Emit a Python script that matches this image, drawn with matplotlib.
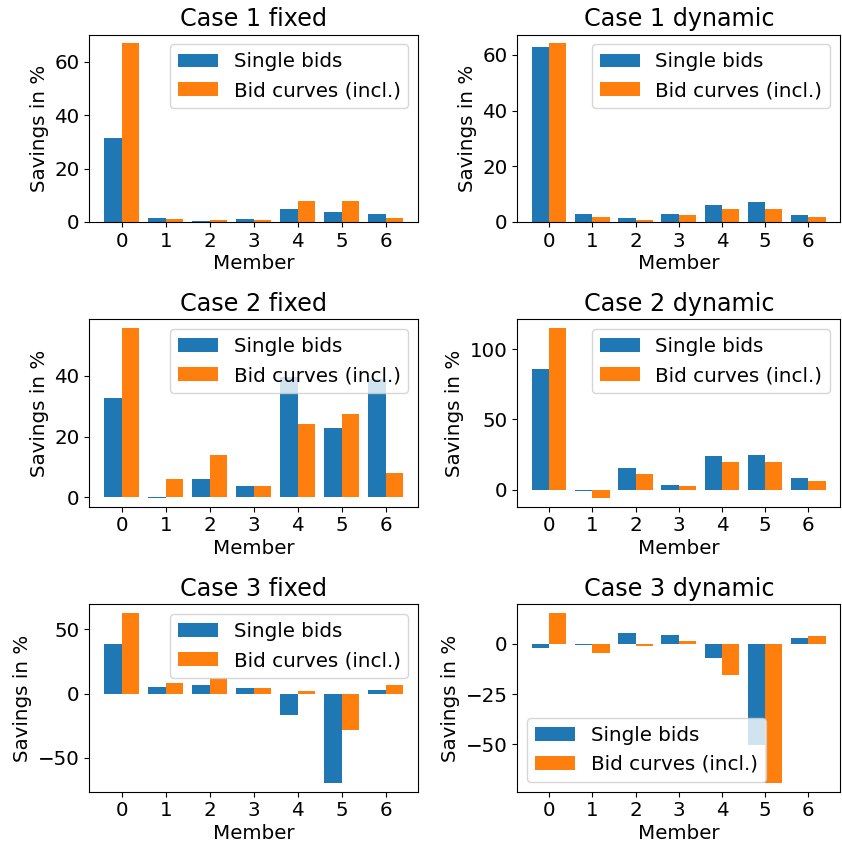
import numpy as np
import matplotlib
matplotlib.use("Agg")
import matplotlib.pyplot as plt

plt.rcParams['font.size'] = 14.3

members = [0, 1, 2, 3, 4, 5, 6]

# savings in % per member
case1_fixed_single = [31.5, 1.4, 0.4, 1.2, 5.0, 3.6, 2.9]
case1_fixed_curves = [66.9, 1.2, 0.6, 0.9, 8.0, 8.0, 1.4]
case1_dyn_single = [63.0, 3.0, 1.3, 3.0, 6.1, 7.2, 2.6]
case1_dyn_curves = [64.1, 1.9, 0.6, 2.4, 4.8, 4.6, 1.7]

case2_fixed_single = [32.6, -0.3, 6.2, 3.6, 39.7, 22.9, 39.1]
case2_fixed_curves = [55.8, 6.1, 13.9, 3.6, 24.1, 27.6, 8.1]
case2_dyn_single = [85.6, -1.0, 15.3, 3.3, 23.7, 24.4, 8.6]
case2_dyn_curves = [115.1, -6.0, 11.0, 2.9, 19.6, 19.6, 6.5]

case3_fixed_single = [38.4, 4.7, 6.5, 4.4, -16.4, -69.5, 3.1]
case3_fixed_curves = [62.7, 7.8, 11.7, 4.4, 1.8, -28.5, 6.3]
case3_dyn_single = [-2.0, -0.8, 5.5, 4.5, -7.0, -50.5, 3.0]
case3_dyn_curves = [15.4, -4.8, -1.2, 1.2, -15.7, -69.2, 3.7]

titles = ["Case 1 fixed", "Case 1 dynamic",
          "Case 2 fixed", "Case 2 dynamic",
          "Case 3 fixed", "Case 3 dynamic"]
single = [case1_fixed_single, case1_dyn_single,
          case2_fixed_single, case2_dyn_single,
          case3_fixed_single, case3_dyn_single]
curves = [case1_fixed_curves, case1_dyn_curves,
          case2_fixed_curves, case2_dyn_curves,
          case3_fixed_curves, case3_dyn_curves]
legend_locs = ["upper right"] * 5 + ["lower left"]

fig, axes = plt.subplots(3, 2, figsize=(8.42, 8.43), dpi=100,
                         gridspec_kw={'width_ratios': [329, 323]})
fig.subplots_adjust(left=0.106, right=0.998, bottom=0.061, top=0.959,
                    wspace=0.303, hspace=0.52)
x = np.array(members)
w = 0.4

for ax, title, s, c, loc in zip(axes.flat, titles, single, curves, legend_locs):
    ax.bar(x - w / 2, s, w, label="Single bids")
    ax.bar(x + w / 2, c, w, label="Bid curves (incl.)")
    ax.set_title(title)
    ax.set_xlabel("Member", labelpad=2.5)
    ax.set_ylabel("Savings in %")
    ax.set_xticks(members)
    ax.legend(loc=loc)

plt.savefig("out.png")
